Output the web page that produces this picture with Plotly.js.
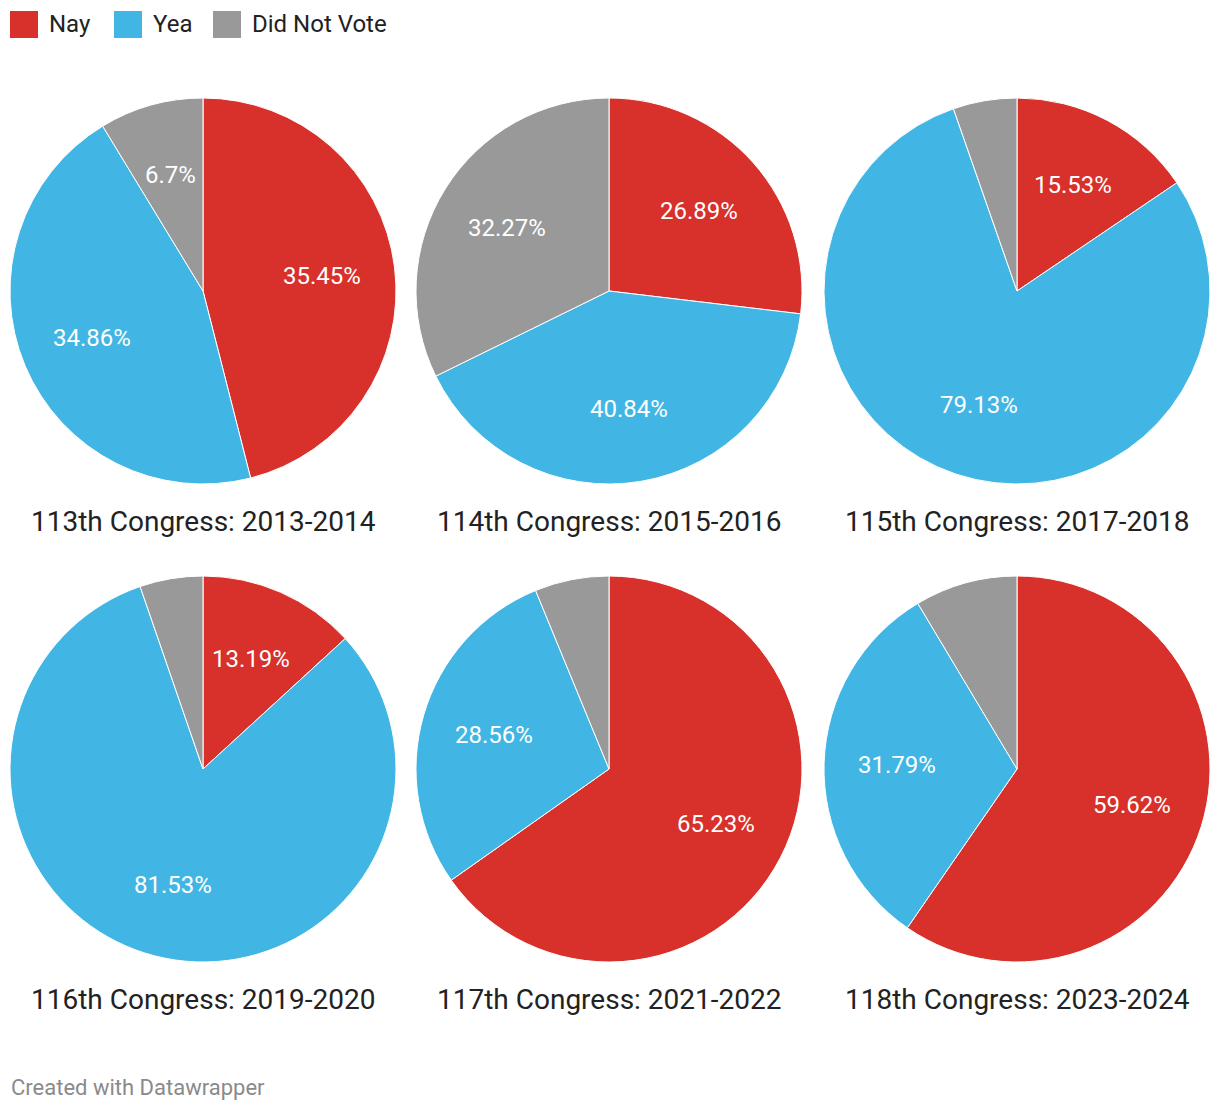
<!DOCTYPE html>
<html>
<head>
<meta charset="utf-8">
<script src="https://cdn.plot.ly/plotly-3.0.1.min.js"></script>
<style>
  html, body { margin: 0; padding: 0; background: #fff; }
  #chart { width: 1220px; height: 1110px; }
</style>
</head>
<body>
<div id="chart"></div>
<script>
// ---- Data ----
const categories = ['Nay', 'Yea', 'Did Not Vote'];
const congressTitles = [
  '113th Congress: 2013-2014',
  '114th Congress: 2015-2016',
  '115th Congress: 2017-2018',
  '116th Congress: 2019-2020',
  '117th Congress: 2021-2022',
  '118th Congress: 2023-2024'
];
const values113 = [35.45, 34.86, 6.7];
const values114 = [26.89, 40.84, 32.27];
const values115 = [15.53, 79.13, 5.34];
const values116 = [13.19, 81.53, 5.28];
const values117 = [65.23, 28.56, 6.21];
const values118 = [59.62, 31.79, 8.59];
const showLabel113 = [true, true, true];
const showLabel114 = [true, true, true];
const showLabel115 = [true, true, false];
const showLabel116 = [true, true, false];
const showLabel117 = [true, true, false];
const showLabel118 = [true, true, false];

const allValues = [values113, values114, values115, values116, values117, values118];
const allShow = [showLabel113, showLabel114, showLabel115, showLabel116, showLabel117, showLabel118];

// ---- Style ----
const colors = ['#d8302a', '#41b6e4', '#999999'];
const W = 1220, H = 1110;
const centersX = [203, 609, 1017];
const centersY = [291, 769];
const R = 192;
const DOMAIN_HALF = 193;
const LABEL_R = 0.625; // fraction of radius where slice labels sit
const FONT = 'Roboto, "Noto Sans", sans-serif';

const traces = [];
const annotations = [];
const shapes = [];

allValues.forEach((vals, i) => {
  const col = i % 3, row = Math.floor(i / 3);
  const cx = centersX[col], cy = centersY[row];
  traces.push({
    type: 'pie',
    labels: categories,
    values: vals,
    textinfo: 'none',
    sort: false,
    direction: 'clockwise',
    rotation: 0,
    marker: { colors: colors, line: { color: '#ffffff', width: 1 } },
    domain: {
      x: [(cx - DOMAIN_HALF) / W, (cx + DOMAIN_HALF) / W],
      y: [1 - (cy + DOMAIN_HALF) / H, 1 - (cy - DOMAIN_HALF) / H]
    },
    hoverinfo: 'label+value',
    showlegend: false
  });
  // slice labels at the middle angle of each slice (derived from the values)
  const total = vals.reduce((a, b) => a + b, 0);
  let cum = 0;
  vals.forEach((v, k) => {
    const mid = (cum + v / 2) / total * 2 * Math.PI;
    cum += v;
    if (!allShow[i][k]) return;
    const px = cx + Math.sin(mid) * R * LABEL_R;
    const py = cy - Math.cos(mid) * R * LABEL_R;
    annotations.push({
      text: v + '%',
      xref: 'paper', yref: 'paper',
      x: px / W, y: 1 - py / H,
      xanchor: 'center', yanchor: 'middle',
      showarrow: false,
      font: { family: FONT, size: 24, color: '#ffffff' }
    });
  });
  annotations.push({
    text: congressTitles[i],
    xref: 'paper', yref: 'paper',
    x: cx / W, y: 1 - (cy + 230) / H,
    xanchor: 'center', yanchor: 'middle',
    showarrow: false,
    font: { family: FONT, size: 28, color: '#222222' }
  });
});

// Legend
const legendX = [10, 114, 213];
categories.forEach((c, k) => {
  shapes.push({
    type: 'rect', xref: 'paper', yref: 'paper',
    x0: legendX[k] / W, x1: (legendX[k] + 28) / W,
    y0: 1 - 38 / H, y1: 1 - 11 / H,
    fillcolor: colors[k], line: { width: 0 }
  });
  annotations.push({
    text: c,
    xref: 'paper', yref: 'paper',
    x: (legendX[k] + 37) / W, y: 1 - 24 / H,
    xanchor: 'left', yanchor: 'middle',
    showarrow: false,
    font: { family: FONT, size: 24, color: '#222222' }
  });
});

annotations.push({
  text: 'Created with Datawrapper',
  xref: 'paper', yref: 'paper',
  x: 9 / W, y: 1 - 1087 / H,
  xanchor: 'left', yanchor: 'middle',
  showarrow: false,
  font: { family: FONT, size: 22, color: '#8a8a8a' }
});

const layout = {
  width: W, height: H,
  margin: { l: 0, r: 0, t: 0, b: 0 },
  paper_bgcolor: '#ffffff',
  plot_bgcolor: '#ffffff',
  showlegend: false,
  annotations: annotations,
  shapes: shapes
};

Plotly.newPlot('chart', traces, layout, { displayModeBar: false, staticPlot: true });
</script>
</body>
</html>
